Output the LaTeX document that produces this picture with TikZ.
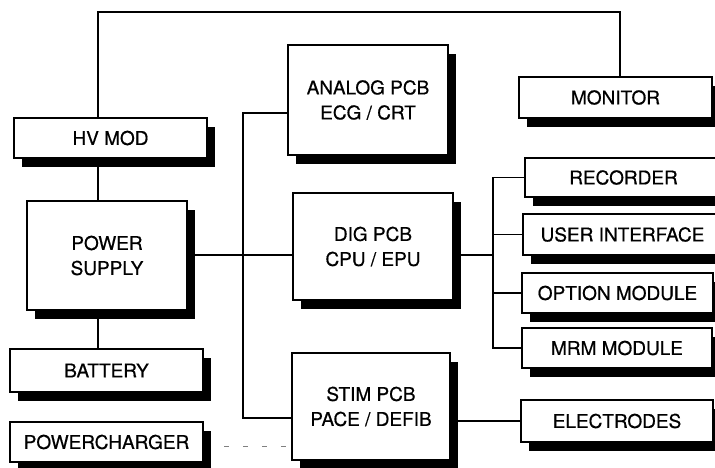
\documentclass[tikz,border=0pt]{standalone}
\usepackage{fontspec}
\setmainfont[FakeBold=0.6]{TeX Gyre Heros}

\tikzset{
  blk/.style={draw,line width=2.2pt,fill=white,align=center,inner sep=0pt,
    font=\fontsize{19}{25}\selectfont},
  wire/.style={line width=1.9pt}
}
% box with its solid shadow: name, x, y, width, height, text
\newcommand{\shbox}[6]{%
  \fill[black] ({#2-#4/2+8},{#3-#5/2+9}) rectangle ++(#4,#5);
  \node[blk,minimum width=#4,minimum height=#5] (#1) at (#2,#3) {#6};}

\begin{document}
\begin{tikzpicture}[x=1pt,y=-1pt]
\useasboundingbox (0,0) rectangle (715,468);

\shbox{HV}{110.5}{138}{193}{40}{HV MOD}
\shbox{PS}{107}{255.5}{160}{109}{POWER\\SUPPLY}
\shbox{BAT}{106.5}{370.5}{193}{43}{BATTERY}
\shbox{CHG}{106.5}{442}{193}{40}{POWERCHARGER}

\shbox{ANA}{368}{100}{160}{110}{ANALOG PCB\\ECG / CRT}
\shbox{DIG}{373}{246.5}{160}{107}{DIG PCB\\CPU / EPU}
\shbox{STIM}{371}{406.5}{158}{107}{STIM PCB\\PACE / DEFIB}

\shbox{MON}{615.5}{97.5}{193}{41}{MONITOR}
\shbox{REC}{623.5}{177.5}{197}{39}{RECORDER}
\shbox{UI}{622.5}{234.5}{199}{41}{USER INTERFACE}
\shbox{OPT}{617.5}{293}{191}{40}{OPTION MODULE}
\shbox{MRM}{617}{348}{190}{40}{MRM MODULE}
\shbox{ELE}{617}{421}{192}{42}{ELECTRODES}

\coordinate (topL) at (98,12);
\coordinate (topR) at (620,12);
\coordinate (busL) at (243,255);
\coordinate (anaTap) at (243,113);
\coordinate (stimTap) at (243,418);
\coordinate (busR) at (493,255);

% supply side
\draw[wire] (HV.north -| topL) -- (topL) -- (topR) -- (MON.north -| topR);
\path[wire] (HV.south -| topL) edge (PS.north -| topL);
\path[wire] (PS.south -| topL) edge (BAT.north -| topL);
\path[wire] (PS.east |- busL) edge (DIG.west |- busL);
\draw[wire] (ANA.west |- anaTap) -- (anaTap) -- (stimTap) -- (STIM.west |- stimTap);

% boards to peripherals
\path[wire] (DIG.east |- busR) edge (busR);
\draw[wire] (REC.west) -- (REC.west -| busR) -- (MRM.west -| busR) -- (MRM.west);
\path[wire] (UI.west -| busR) edge (UI.west);
\path[wire] (OPT.west -| busR) edge (OPT.west);
\path[wire] (STIM.east |- ELE.west) edge (ELE.west);

\draw[gray,line width=0.8pt,dash pattern=on 5pt off 14pt] ([xshift=20pt,yshift=-4pt]CHG.east) -- (STIM.west |- 0,446);
\end{tikzpicture}
\end{document}
